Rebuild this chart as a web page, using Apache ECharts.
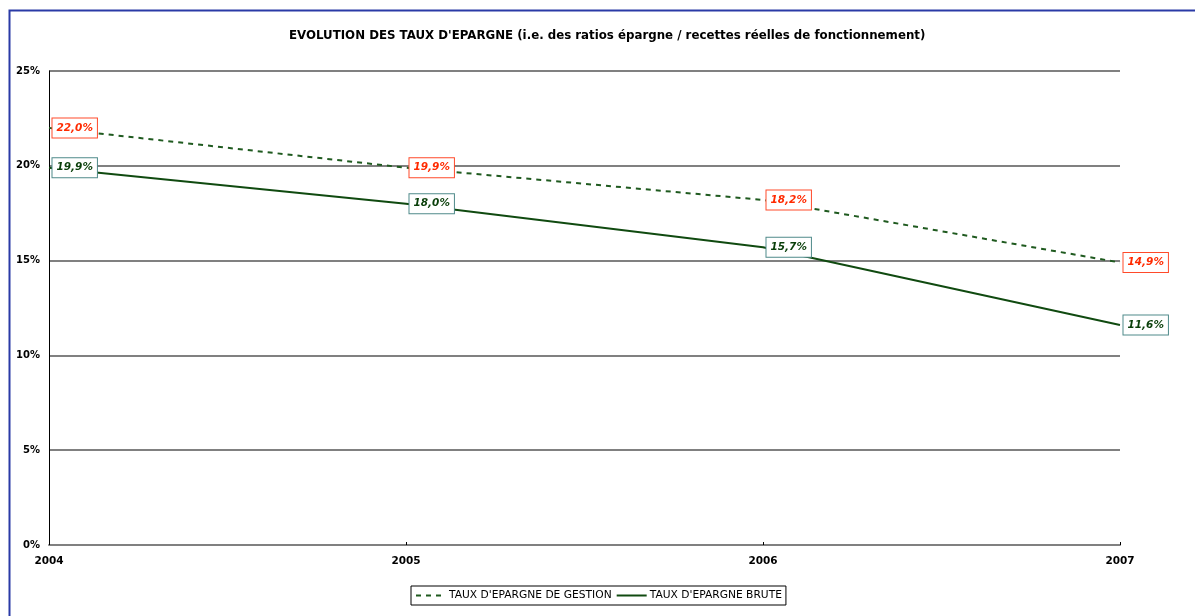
<!DOCTYPE html>
<html>
<head>
<meta charset="utf-8">
<script src="https://cdn.jsdelivr.net/npm/echarts@6/dist/echarts.min.js"></script>
<style>
html, body { margin: 0; padding: 0; background: #fff; }
#chart { width: 1195px; height: 616px; }
</style>
</head>
<body>
<div id="chart"></div>
<script>
var years = ['2004', '2005', '2006', '2007'];
var tauxGestion = [22.0, 19.9, 18.2, 14.9];   // taux d'épargne de gestion (%)
var tauxBrute = [19.9, 18.0, 15.7, 11.6];     // taux d'épargne brute (%)

function fmtPct(p) {
    return p.value.toFixed(1).replace('.', ',') + '%';
}

var myChart = echarts.init(document.getElementById('chart'));
var font = '"DejaVu Sans", Verdana, sans-serif';

var option = {
    backgroundColor: '#fff',
    animation: false,
    title: {
        text: "EVOLUTION DES TAUX D'EPARGNE (i.e. des ratios épargne / recettes réelles de fonctionnement)",
        left: 284,
        top: 25,
        textStyle: { fontFamily: font, fontSize: 11.8, fontWeight: 'bold', color: '#000' }
    },
    graphic: [{
        type: 'rect',
        shape: { x: 9.5, y: 10.5, width: 1300, height: 700 },
        style: { fill: 'none', stroke: '#2a3aa6', lineWidth: 2 },
        silent: true
    }],
    legend: {
        bottom: 11,
        left: 411,
        itemGap: 4,
        itemWidth: 30,
        itemHeight: 10,
        padding: [4, 4],
        borderColor: '#000',
        borderWidth: 1,
        textStyle: { fontFamily: font, fontSize: 10.7, color: '#000', padding: [0, 0, 0, -2] },
        data: ["TAUX D'EPARGNE DE GESTION", "TAUX D'EPARGNE BRUTE"]
    },
    grid: { left: 49, right: 75, top: 71, bottom: 71 },
    xAxis: {
        type: 'category',
        boundaryGap: false,
        data: years,
        axisLine: { lineStyle: { color: '#808080', width: 2 } },
        axisTick: { inside: true, length: 3, lineStyle: { color: '#000' } },
        axisLabel: { fontFamily: font, fontSize: 10.5, fontWeight: 'bold', color: '#000', margin: 11 },
        splitLine: { show: false }
    },
    yAxis: {
        type: 'value',
        min: 0,
        max: 25,
        interval: 5,
        axisLine: { show: true, lineStyle: { color: '#000', width: 1 } },
        axisTick: { show: false },
        axisLabel: { fontFamily: font, fontSize: 10, fontWeight: 'bold', color: '#000', margin: 9, formatter: '{value}%' },
        splitLine: { lineStyle: { color: '#808080', width: 2 } }
    },
    series: [
        {
            name: "TAUX D'EPARGNE DE GESTION",
            type: 'line',
            data: tauxGestion,
            symbol: 'circle',
            symbolSize: 1,
            showSymbol: true,
            lineStyle: { color: '#1f5a1f', width: 2, type: [5, 5] },
            itemStyle: { color: 'rgba(0,0,0,0)' },
            label: {
                show: true,
                position: 'right',
                distance: 3,
                formatter: fmtPct,
                fontFamily: font,
                fontSize: 10.5,
                fontWeight: 'bold',
                fontStyle: 'italic',
                color: '#ff2a00',
                backgroundColor: '#fff',
                borderColor: '#ff4a2a',
                borderWidth: 1,
                padding: [4, 4, 4, 4]
            }
        },
        {
            name: "TAUX D'EPARGNE BRUTE",
            type: 'line',
            data: tauxBrute,
            symbol: 'circle',
            symbolSize: 1,
            showSymbol: true,
            lineStyle: { color: '#104a10', width: 2 },
            itemStyle: { color: 'rgba(0,0,0,0)' },
            label: {
                show: true,
                position: 'right',
                distance: 3,
                formatter: fmtPct,
                fontFamily: font,
                fontSize: 10.5,
                fontWeight: 'bold',
                fontStyle: 'italic',
                color: '#0a3f0a',
                backgroundColor: '#fff',
                borderColor: '#4f8a8a',
                borderWidth: 1,
                padding: [4, 4, 4, 4]
            }
        }
    ]
};
myChart.setOption(option);
</script>
</body>
</html>
